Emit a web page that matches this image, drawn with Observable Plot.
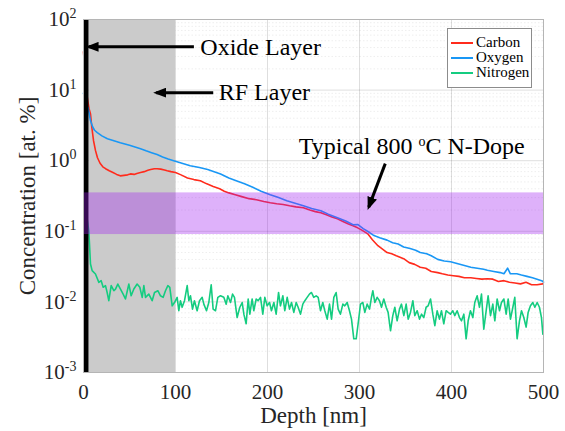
<!DOCTYPE html>
<html><head><meta charset="utf-8">
<script src="https://cdn.jsdelivr.net/npm/d3@7"></script>
<script src="https://cdn.jsdelivr.net/npm/@observablehq/plot@0.6"></script>
<style>
body{margin:0;background:#fff;}
#wrap{position:relative;width:565px;height:431px;}
#legend{position:absolute;left:447px;top:28px;width:85px;height:60px;border:1px solid #8c8c8c;background:#fff;font-family:"Liberation Serif",serif;font-size:15px;line-height:15px;box-sizing:border-box;padding-top:6px;color:#000;}
.row{display:flex;align-items:center;height:15px;}
.sw{width:22px;height:0;border-top:2px solid;margin:0 3px 0 3px;}
</style>
</head><body>
<div id="wrap"><div id="legend"></div></div>
<script>
// ---------- data ----------
const seriesNames = ["Carbon", "Oxygen", "Nitrogen"];
const seriesColors = ["#ff2b1c", "#1997f5", "#14cc80"];

const carbonDepth = [0,2,4,6,7.6,9,10.9,13,15.2,18,21,24,28,32,36,40,44,48,51,55,58,62,66,70,73,77,80,84,88,91,95,100,106,113,120,127,134,141,148,153,158,165,172,180,188,196,203,210,217,224,231,239,246,252,258,264,270,276,282,288,293,298,303,309,314,320,325,330,335,340,348,354,360,366,372,378,385,390,396,402,408,414,421,427,433,439,445,451,457,463,469,475,481,487,493,499];
const carbonConc = [35,15,8,5.5,4.6,3.0,1.92,1.4,1.1,0.92,0.82,0.77,0.72,0.68,0.64,0.61,0.62,0.63,0.65,0.64,0.66,0.68,0.70,0.73,0.75,0.77,0.77,0.76,0.74,0.72,0.70,0.68,0.63,0.57,0.54,0.52,0.47,0.43,0.40,0.37,0.35,0.33,0.31,0.29,0.28,0.265,0.254,0.245,0.24,0.23,0.222,0.216,0.20,0.19,0.183,0.172,0.16,0.15,0.138,0.127,0.12,0.112,0.103,0.092,0.076,0.0625,0.056,0.05,0.048,0.045,0.041,0.036,0.034,0.031,0.030,0.027,0.026,0.025,0.024,0.0235,0.023,0.022,0.022,0.0215,0.021,0.0213,0.021,0.0195,0.02,0.019,0.0185,0.018,0.019,0.0175,0.0175,0.018];

const oxygenDepth = [0,1,3,5,7.6,10,12,15,20,26,33,40,44,50,56,62,68,74,80,86,92,98,107,116,126,135,142,149,158,166,175,184,193,203,212,221,230,239,248,258,266,276,285,293,298,304,311,315,322,330,336,342,348,355,361,366,373,378,385,392,399,406,413,421,428,435,439,446,453,457,461,464,471,476,482,488,493,498,500];
const oxygenConc = [9,8,6,5.6,3.7,3.0,2.7,2.5,2.25,2.05,1.92,1.8,1.74,1.65,1.56,1.48,1.38,1.3,1.22,1.13,1.06,1.0,0.92,0.85,0.8,0.75,0.7,0.65,0.57,0.52,0.47,0.42,0.37,0.33,0.30,0.27,0.25,0.23,0.21,0.196,0.175,0.156,0.14,0.124,0.125,0.109,0.096,0.088,0.081,0.075,0.069,0.066,0.06,0.057,0.054,0.05,0.048,0.045,0.04,0.038,0.037,0.035,0.033,0.031,0.03,0.029,0.028,0.027,0.026,0.025,0.03,0.025,0.025,0.024,0.023,0.022,0.021,0.02,0.019];

const nitrogenDepth = [2,4,5.8,7.6,9.4,13.0,16.7,19.2,21.4,23.9,25.7,27.5,30.1,33.0,34.8,37.3,40.2,43.1,45.6,49.3,51.8,54.7,58.3,61.2,63.8,65.6,67.4,71.0,74.6,77.2,80.8,83.7,86.6,89.1,91.7,93.8,96.4,98.9,101.8,103.6,105.4,107.2,109.8,112.7,114.5,116.3,118.5,120.6,123.5,126.1,129.0,130.8,133.7,136.2,138.8,140.9,143.5,146.0,148.9,152.5,155.1,156.9,159.8,162.0,164.1,167.0,169.9,172.5,174.3,176.8,179.0,180.8,183.3,185.1,187.7,189.8,192.4,194.9,197.1,199.6,202.2,204.3,206.9,209.4,212.0,214.1,216.7,218.8,221.4,223.9,226.1,228.6,231.2,233.3,235.9,238.4,240.6,243.1,245.6,247.8,250.3,252.9,255.1,257.6,260.1,262.3,264.9,267.4,269.6,272.1,274.6,276.8,279.3,281.9,284.0,286.6,289.1,291.3,293.8,296.4,298.5,301.1,303.6,305.8,308.3,310.9,313.0,314.5,316.7,319.2,321.7,323.9,326.4,329.0,331.1,333.7,336.2,338.4,340.9,343.5,345.6,348.2,350.7,352.9,355.4,358.0,360.1,362.7,365.2,367.4,369.9,372.4,374.6,377.2,379.7,381.9,384.4,386.9,389.1,391.6,394.2,396.4,398.9,401.4,403.6,406.1,408.7,410.9,413.4,415.9,418.1,420.6,423.2,425.3,427.9,430.4,432.6,435.1,437.7,439.8,442.4,444.9,447.1,449.6,452.2,454.3,456.9,459.4,461.6,464.1,466.7,468.8,471.3,473.9,476.1,478.6,481.1,483.3,485.8,488.4,490.6,493.1,495.6,497.8,499.3];
const nitrogenConc = [0.2,0.15,0.1,0.0344,0.0277,0.0248,0.0189,0.0200,0.0161,0.0170,0.0136,0.0104,0.0170,0.0144,0.0152,0.0179,0.0152,0.0129,0.0110,0.0179,0.0122,0.0152,0.0179,0.0161,0.0116,0.0170,0.0116,0.0129,0.0104,0.0136,0.0144,0.0122,0.0116,0.0144,0.0170,0.0161,0.0088,0.0098,0.0116,0.0075,0.0104,0.0084,0.0104,0.0170,0.0104,0.0122,0.0079,0.0104,0.0075,0.0104,0.0116,0.0093,0.0075,0.0098,0.0175,0.0079,0.0075,0.0116,0.0122,0.0116,0.0093,0.0122,0.0098,0.0129,0.0116,0.0060,0.0084,0.0098,0.0067,0.0049,0.0110,0.0067,0.0110,0.0075,0.0110,0.0104,0.0116,0.0067,0.0116,0.0088,0.0098,0.0075,0.0098,0.0067,0.0136,0.0088,0.0122,0.0075,0.0116,0.0079,0.0098,0.0071,0.0098,0.0084,0.0067,0.0093,0.0104,0.0116,0.0129,0.0136,0.0116,0.0122,0.0116,0.0075,0.0098,0.0075,0.0057,0.0093,0.0057,0.0116,0.0136,0.0079,0.0067,0.0093,0.0088,0.0098,0.0075,0.0057,0.0030,0.0030,0.0049,0.0093,0.0098,0.0071,0.0093,0.0079,0.0116,0.0144,0.0098,0.0116,0.0104,0.0084,0.0110,0.0084,0.0071,0.0039,0.0064,0.0084,0.0054,0.0079,0.0093,0.0064,0.0093,0.0057,0.0071,0.0104,0.0064,0.0075,0.0057,0.0067,0.0060,0.0084,0.0088,0.0110,0.0067,0.0046,0.0075,0.0057,0.0075,0.0049,0.0075,0.0071,0.0067,0.0075,0.0064,0.0075,0.0060,0.0054,0.0067,0.0030,0.0054,0.0075,0.0060,0.0098,0.0122,0.0084,0.0129,0.0041,0.0075,0.0122,0.0064,0.0093,0.0054,0.0110,0.0075,0.0098,0.0110,0.0067,0.0110,0.0057,0.0084,0.0116,0.0030,0.0054,0.0075,0.0060,0.0044,0.0071,0.0088,0.0098,0.0084,0.0098,0.0084,0.0060,0.0035];

const xTicks = [0, 100, 200, 300, 400, 500];
const yTicks = [1e-3, 1e-2, 1e-1, 1, 10, 100];
const yMinorTicks = [1e-3,1e-2,1e-1,1,10].flatMap(d => [2,3,4,5,6,7,8,9].map(k => k * d));

// regions (data units)
const oxideBand = [{x1: 0, x2: 6}];
const rfBand = [{x1: 6, x2: 100}];
const dopeBand = [{y1: 0.09, y2: 0.35}];

// annotations
const arrows = [
  {x1: 120, y1: 41, x2: 5.5, y2: 41},
  {x1: 141, y1: 9.2, x2: 79, y2: 9.2},
  {x1: 328, y1: 0.91, x2: 310, y2: 0.22}
];
const notes = [
  {x: 127, y: 41, text: "Oxide Layer"},
  {x: 147, y: 9.2, text: "RF Layer"},
  {x: 234, y: 1.62, text: "Typical 800 ^{o}C N-Dope"}
];

// ---------- build ----------
const rows = [];
[[carbonDepth, carbonConc], [oxygenDepth, oxygenConc], [nitrogenDepth, nitrogenConc]].forEach(([dep, con], i) => {
  dep.forEach((d, j) => rows.push({series: seriesNames[i], depth: d, conc: con[j]}));
});

const filledArrow = (color, context) => {
  const m = d3.create("svg:marker")
    .attr("viewBox", "0 -5 13 10")
    .attr("markerUnits", "userSpaceOnUse")
    .attr("markerWidth", 13).attr("markerHeight", 10)
    .attr("refX", 10).attr("refY", 0)
    .attr("orient", "auto")
    .attr("fill", color).attr("stroke", "none");
  m.append("path").attr("d", "M0,-5L13,0L0,5Z");
  return m.node();
};

const font = "Liberation Serif";
const chart = Plot.plot({
  width: 565, height: 431,
  marginLeft: 83, marginRight: 22, marginTop: 19, marginBottom: 59,
  style: {fontFamily: font, fontSize: "21px", color: "#262626", background: "transparent"},
  x: {domain: [0, 500]},
  y: {type: "log", domain: [1e-3, 1e2]},
  color: {domain: seriesNames, range: seriesColors},
  marks: [
    Plot.gridY(yMinorTicks, {stroke: "#000", strokeOpacity: 0.07, strokeDasharray: "1.5,2"}),
    Plot.gridY(yTicks, {stroke: "#000", strokeOpacity: 0.13}),
    Plot.gridX(xTicks, {stroke: "#000", strokeOpacity: 0.13}),
    Plot.rect(rfBand, {x1: "x1", x2: "x2", fill: "#cbcbcb"}),
    Plot.line(rows, {x: "depth", y: "conc", z: "series", stroke: "series", strokeWidth: 1.6}),
    Plot.rect(oxideBand, {x1: "x1", x2: "x2", fill: "#000"}),
    Plot.rect(dopeBand, {y1: "y1", y2: "y2", fill: "#a020f0", fillOpacity: 0.35}),
    Plot.frame({stroke: "#b5b5b5"}),
    Plot.axisX({ticks: xTicks, tickSize: 0, tickPadding: 12, label: null, fontSize: 21}),
    Plot.axisY({ticks: yTicks, tickSize: 0, tickPadding: 7, label: null, fontSize: 21,
      tickFormat: d => `10^{${Math.round(Math.log10(d))}}`}),
    Plot.text(["Depth [nm]"], {frameAnchor: "bottom", textAnchor: "middle", lineAnchor: "middle", dy: 43, fontSize: 23, fill: "#262626"}),
    Plot.text(["Concentration [at. %]"], {frameAnchor: "left", textAnchor: "middle", lineAnchor: "middle", rotate: -90, dx: -56, fontSize: 23, fill: "#262626"}),
    Plot.link(arrows, {x1: "x1", y1: "y1", x2: "x2", y2: "y2", stroke: "#000", strokeWidth: 3, markerEnd: filledArrow}),
    Plot.text(notes, {x: "x", y: "y", text: "text", textAnchor: "start", fontSize: 24, fill: "#000"})
  ]
});

// superscripts: "base^{sup}rest"
d3.select(chart).selectAll("text").each(function () {
  const t = this.textContent;
  const m = t.match(/^(.*?)\^\{(.*?)\}(.*)$/);
  if (!m) return;
  const fs = parseFloat(getComputedStyle(this).fontSize) || 21;
  const raise = Math.round(fs * 0.4);
  const sel = d3.select(this);
  sel.text(null);
  sel.append("tspan").text(m[1]);
  sel.append("tspan").attr("dy", -raise).attr("font-size", Math.round(fs * 0.66)).text(m[2]);
  if (m[3]) sel.append("tspan").attr("dy", raise).text(m[3]);
});

const wrap = document.getElementById("wrap");
wrap.insertBefore(chart, wrap.firstChild);

const legend = d3.select("#legend");
seriesNames.forEach((n, i) => {
  const r = legend.append("div").attr("class", "row");
  r.append("div").attr("class", "sw").style("border-top-color", seriesColors[i]);
  r.append("span").text(n);
});
</script>
</body></html>
